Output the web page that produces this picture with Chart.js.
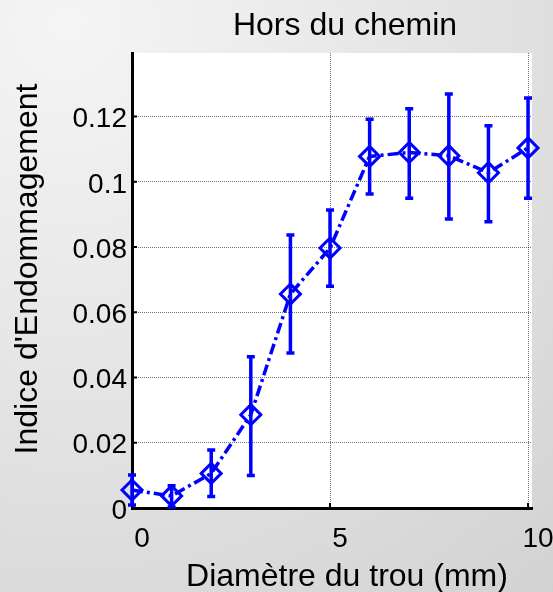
<!DOCTYPE html>
<html>
<head>
<meta charset="utf-8">
<script src="https://cdn.jsdelivr.net/npm/chart.js@4"></script>
<style>
  html, body { margin: 0; padding: 0; }
  body {
    width: 553px; height: 592px; overflow: hidden;
    background: radial-gradient(circle at 12% 4%, #f5f5f5 0%, #e6e6e6 45%, #d2d2d2 100%);
  }
  #chart { display: block; }
</style>
</head>
<body>
<canvas id="chart" width="553" height="592" style="width:553px;height:592px"></canvas>
<script>
// Hors du chemin – indice d'endommagement vs diamètre du trou

const diametre = [0, 1, 2, 3, 4, 5, 6, 7, 8, 9, 10];
const indice   = [0.0055, 0.0037, 0.0106, 0.0286, 0.0656, 0.0797, 0.1078, 0.1090, 0.1080, 0.1028, 0.1104];
const errBas   = [0.0009, 0.0003, 0.0035, 0.0100, 0.0475, 0.0680, 0.0963, 0.0950, 0.0886, 0.0878, 0.0950];
const errHaut  = [0.0101, 0.0068, 0.0178, 0.0464, 0.0837, 0.0914, 0.1192, 0.1224, 0.1269, 0.1172, 0.1257];
const xTicks = [0, 5, 10];
const yTicks = [0, 0.02, 0.04, 0.06, 0.08, 0.1, 0.12];

const BLUE = '#0000ff';
const FONT = '"Liberation Sans", Arial, sans-serif';

const decor = {
    id: 'decor',
    beforeDraw(chart) {
        const { ctx, chartArea: a } = chart;
        ctx.save();
        ctx.fillStyle = '#ffffff';
        ctx.fillRect(a.left, a.top, a.right - a.left, a.bottom - a.top);
        ctx.restore();
    },
    beforeDatasetsDraw(chart) {
        const { ctx, chartArea: a, scales: { x, y } } = chart;
        ctx.save();
        // petites graduations vers l'intérieur
        ctx.strokeStyle = '#000';
        ctx.lineWidth = 2;
        ctx.beginPath();
        yTicks.forEach(v => {
            const py = y.getPixelForValue(v);
            ctx.moveTo(a.left, py); ctx.lineTo(a.left + 5, py);
        });
        xTicks.forEach(v => {
            const px = x.getPixelForValue(v);
            ctx.moveTo(px, a.bottom); ctx.lineTo(px, a.bottom - 5);
        });
        ctx.stroke();

        // barres d'erreur
        ctx.strokeStyle = BLUE;
        ctx.lineWidth = 3.5;
        ctx.beginPath();
        diametre.forEach((d, i) => {
            const px = x.getPixelForValue(d);
            const y1 = y.getPixelForValue(errBas[i]);
            const y2 = y.getPixelForValue(errHaut[i]);
            ctx.moveTo(px, y1); ctx.lineTo(px, y2);
            ctx.moveTo(px - 4, y1); ctx.lineTo(px + 4, y1);
            ctx.moveTo(px - 4, y2); ctx.lineTo(px + 4, y2);
        });
        ctx.stroke();
        ctx.restore();
    },
    afterDraw(chart) {
        const { ctx } = chart;
        ctx.save();
        ctx.fillStyle = '#000';
        ctx.font = '32px ' + FONT;
        ctx.textAlign = 'center';
        ctx.textBaseline = 'alphabetic';
        ctx.fillText('Hors du chemin', 345, 35);
        ctx.fillText('Diamètre du trou (mm)', 347, 586);
        ctx.translate(37, 269);
        ctx.rotate(-Math.PI / 2);
        ctx.fillText("Indice d'Endommagement", 0, 0);
        ctx.restore();
    }
};

new Chart(document.getElementById('chart'), {
    type: 'line',
    data: {
        datasets: [{
            data: diametre.map((d, i) => ({ x: d, y: indice[i] })),
            borderColor: BLUE,
            borderWidth: 3.5,
            borderDash: [11, 4, 3, 4],
            pointStyle: 'rectRot',
            pointRadius: 10,
            pointBorderWidth: 3,
            pointBorderColor: BLUE,
            pointBackgroundColor: 'rgba(0,0,0,0)',
            tension: 0,
            fill: false,
            clip: false
        }]
    },
    options: {
        responsive: false,
        animation: false,
        events: [],
        layout: { padding: { top: 53, right: 21, left: 0, bottom: 0 } },
        plugins: {
            legend: { display: false },
            title: { display: false },
            tooltip: { enabled: false }
        },
        scales: {
            x: {
                type: 'linear',
                min: 0,
                max: 10.1,
                afterBuildTicks: s => { s.ticks = xTicks.map(v => ({ value: v })); },
                afterFit: s => { s.height = 84; s.paddingLeft = 0; s.paddingRight = 0; },
                grid: { color: 'rgba(0,0,0,0.55)', lineWidth: 1, drawTicks: false },
                border: { display: true, color: '#000', width: 3, dash: [1, 1] },
                ticks: {
                    color: '#000',
                    font: { size: 28, family: FONT },
                    padding: 14,
                    labelOffset: 10,
                    maxRotation: 0,
                    callback: v => String(v)
                }
            },
            y: {
                min: 0,
                max: 0.1395,
                afterBuildTicks: s => { s.ticks = yTicks.map(v => ({ value: v })); },
                afterFit: s => { s.width = 132; s.paddingTop = 0; s.paddingBottom = 0; },
                grid: { color: 'rgba(0,0,0,0.55)', lineWidth: 1, drawTicks: false },
                border: { display: true, color: '#000', width: 3, dash: [1, 1] },
                ticks: {
                    color: '#000',
                    font: { size: 28, family: FONT },
                    padding: 5,
                    labelOffset: 3,
                    callback: v => String(+v.toFixed(2))
                }
            }
        }
    },
    plugins: [decor]
});
</script>
</body>
</html>
